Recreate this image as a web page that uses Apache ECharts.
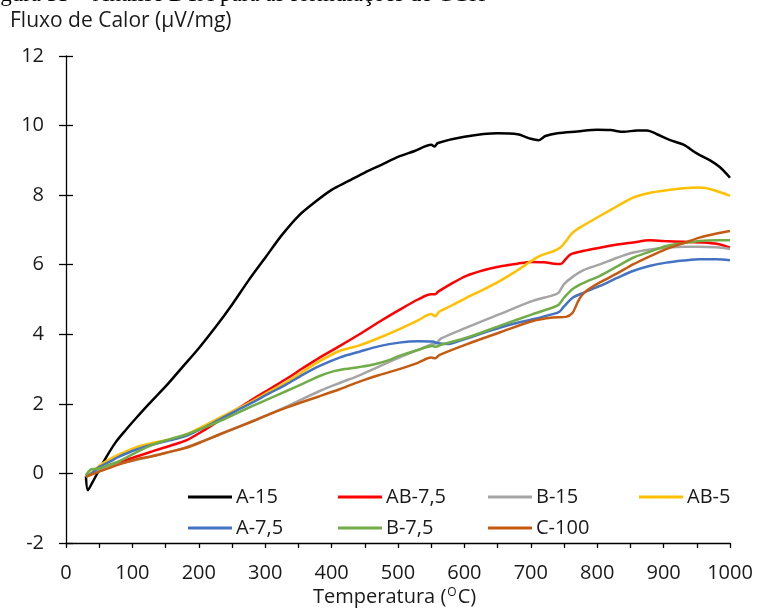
<!DOCTYPE html>
<html>
<head>
<meta charset="utf-8">
<script src="https://cdn.jsdelivr.net/npm/echarts@6/dist/echarts.min.js"></script>
<style>
  html, body { margin: 0; padding: 0; background: #fff; }
  #chart { width: 757px; height: 611px; }
</style>
</head>
<body>
<div id="chart"></div>
<script>
// DTA curves: [temperature °C, heat flow µV/mg]
const seriesNames = ['A-15', 'AB-7,5', 'B-15', 'AB-5', 'A-7,5', 'B-7,5', 'C-100'];
const seriesColors = ['#000000', '#FF0000', '#A5A5A5', '#FFC000', '#4472C4', '#70AD47', '#C55A11'];

const a15 = [[30,-0.08],[33,-0.48],[40,-0.25],[50,0.1],[60,0.45],[75,0.9],[90,1.25],[106,1.6],[125,2.0],[150,2.5],[175,3.05],[200,3.6],[225,4.2],[250,4.85],[275,5.55],[300,6.2],[325,6.85],[350,7.4],[375,7.8],[400,8.15],[425,8.4],[450,8.65],[475,8.87],[500,9.1],[525,9.27],[550,9.45],[555,9.4],[560,9.5],[600,9.68],[650,9.78],[680,9.75],[700,9.62],[712,9.58],[722,9.7],[740,9.78],[770,9.83],[800,9.88],[820,9.87],[840,9.82],[860,9.86],[875,9.86],[890,9.75],[910,9.58],[930,9.45],[950,9.2],[970,9.0],[985,8.8],[1000,8.5]];
const ab75 = [[30,-0.05],[40,0.0],[50,0.1],[65,0.2],[80,0.31],[105,0.48],[131,0.64],[156,0.79],[181,0.95],[206,1.22],[231,1.52],[256,1.82],[281,2.13],[306,2.42],[332,2.72],[357,3.03],[382,3.33],[412,3.66],[442,4.0],[472,4.36],[502,4.7],[530,5.0],[550,5.15],[556,5.15],[560,5.22],[580,5.45],[603,5.68],[630,5.85],[653,5.95],[680,6.03],[700,6.08],[720,6.07],[735,6.03],[745,6.02],[752,6.15],[760,6.3],[780,6.4],[804,6.49],[830,6.58],[854,6.64],[879,6.7],[900,6.68],[930,6.66],[960,6.64],[980,6.6],[1000,6.49]];
const b15 = [[30,-0.05],[50,0.1],[80,0.27],[131,0.5],[181,0.75],[231,1.12],[281,1.5],[332,1.92],[382,2.37],[412,2.6],[442,2.82],[472,3.08],[502,3.33],[530,3.55],[552,3.72],[558,3.75],[565,3.88],[603,4.19],[653,4.58],[703,4.96],[733,5.12],[742,5.2],[750,5.44],[763,5.65],[780,5.85],[804,6.01],[830,6.2],[854,6.35],[880,6.44],[904,6.49],[930,6.52],[954,6.52],[980,6.5],[1000,6.45]];
const ab5 = [[30,-0.1],[40,0.05],[50,0.22],[65,0.4],[80,0.55],[105,0.75],[131,0.88],[156,0.98],[181,1.12],[206,1.35],[231,1.6],[256,1.84],[281,2.08],[306,2.35],[332,2.62],[357,2.93],[382,3.23],[412,3.52],[442,3.68],[472,3.9],[502,4.15],[530,4.4],[550,4.58],[556,4.52],[562,4.65],[580,4.82],[603,5.05],[630,5.3],[653,5.53],[675,5.78],[693,6.01],[713,6.25],[733,6.38],[745,6.5],[753,6.68],[762,6.9],[775,7.08],[804,7.4],[830,7.68],[854,7.93],[880,8.07],[904,8.14],[930,8.2],[954,8.22],[975,8.15],[1000,7.98]];
const a75 = [[30,-0.1],[40,0.02],[50,0.18],[65,0.33],[80,0.48],[105,0.68],[131,0.83],[156,0.95],[181,1.08],[206,1.3],[231,1.55],[256,1.8],[281,2.04],[306,2.3],[332,2.56],[357,2.84],[382,3.09],[412,3.33],[442,3.5],[472,3.66],[502,3.76],[530,3.8],[552,3.79],[560,3.74],[575,3.72],[603,3.88],[630,4.05],[653,4.19],[680,4.33],[703,4.43],[733,4.58],[743,4.65],[750,4.8],[763,5.05],[780,5.2],[804,5.39],[830,5.62],[854,5.82],[880,5.97],[904,6.06],[930,6.12],[954,6.16],[980,6.16],[1000,6.13]];
const b75 = [[30,-0.05],[34,0.05],[38,0.12],[45,0.13],[52,0.15],[65,0.25],[80,0.35],[105,0.6],[131,0.83],[156,0.98],[181,1.12],[206,1.3],[231,1.5],[256,1.72],[281,1.94],[306,2.15],[332,2.37],[357,2.58],[382,2.8],[400,2.92],[420,3.0],[442,3.06],[465,3.14],[485,3.25],[502,3.38],[530,3.55],[552,3.66],[557,3.64],[565,3.7],[603,3.9],[653,4.24],[703,4.58],[733,4.77],[742,4.85],[750,5.05],[763,5.3],[780,5.48],[804,5.68],[830,5.95],[854,6.2],[880,6.38],[904,6.54],[930,6.62],[954,6.68],[980,6.7],[1000,6.7]];
const c100 = [[30,-0.1],[50,0.05],[80,0.26],[105,0.4],[131,0.5],[156,0.62],[181,0.74],[206,0.92],[231,1.12],[256,1.31],[281,1.5],[306,1.7],[332,1.89],[357,2.06],[382,2.22],[412,2.42],[442,2.64],[472,2.83],[502,3.0],[530,3.18],[550,3.33],[556,3.31],[562,3.4],[603,3.71],[653,4.05],[703,4.38],[733,4.48],[753,4.5],[763,4.62],[770,4.9],[776,5.1],[784,5.25],[804,5.49],[830,5.75],[854,6.01],[880,6.25],[904,6.45],[930,6.62],[954,6.78],[980,6.9],[1000,6.97]];

const seriesData = [a15, ab75, b15, ab5, a75, b75, c100];

const xTicks = { min: 0, max: 1000, step: 50, labelStep: 100 };
const yTicks = { min: -2, max: 12, step: 2 };

const FONT = '"Open Sans", Lato, sans-serif';
const FS = 20;
const TEXT = '#1a1a1a';

// legend slots: two rows, four columns
const legendSlots = [
  [188, 487], [338, 487], [488, 487], [639, 487],
  [188, 518], [338, 518], [488, 518]
];

const chart = echarts.init(document.getElementById('chart'), null, { renderer: 'canvas' });

chart.setOption({
  backgroundColor: '#ffffff',
  animation: false,
  grid: { left: 66, right: 27, top: 56, bottom: 68, containLabel: false },
  xAxis: {
    type: 'value',
    min: xTicks.min, max: xTicks.max, interval: xTicks.step,
    axisLine: { onZero: false, lineStyle: { color: '#000', width: 1.3 } },
    axisTick: { show: true, length: 5, lineStyle: { color: '#000', width: 1.3 } },
    axisLabel: {
      margin: 20, fontFamily: FONT, fontSize: FS, color: TEXT,
      formatter: v => (v % xTicks.labelStep === 0 ? String(v) : '')
    },
    splitLine: { show: false }
  },
  yAxis: [
    {
      type: 'value',
      min: yTicks.min, max: yTicks.max, interval: yTicks.step,
      axisLine: { show: true, onZero: false, lineStyle: { color: '#000', width: 1.3 } },
      axisTick: { show: true, length: 7, lineStyle: { color: '#000', width: 1.3 } },
      axisLabel: { margin: 22, fontFamily: FONT, fontSize: FS, color: TEXT },
      splitLine: { show: false }
    },
    {
      type: 'value',
      position: 'left',
      min: yTicks.min, max: yTicks.max, interval: yTicks.step,
      axisLine: { show: false },
      axisTick: { show: true, inside: true, length: 7, lineStyle: { color: '#000', width: 1.3 } },
      axisLabel: { show: false },
      splitLine: { show: false }
    }
  ],
  legend: seriesNames.map((name, i) => ({
    data: [name],
    left: legendSlots[i][0],
    top: legendSlots[i][1],
    padding: 0,
    icon: 'rect',
    itemWidth: 44,
    itemHeight: 3,
    itemGap: 0,
    textStyle: { fontFamily: FONT, fontSize: FS, color: TEXT, padding: [0, 0, 0, -1] }
  })),
  graphic: [
    {
      type: 'text', left: -19, top: -17,
      style: {
        text: 'Figura 33 – Análise DTA para as formulações de CGH',
        font: '23px "Liberation Serif", serif', fill: '#000'
      }
    },
    {
      type: 'text', left: 10, top: 11,
      style: { text: 'Fluxo de Calor (µV/mg)', font: '21px ' + FONT, fill: TEXT }
    },
    {
      type: 'text', left: 313, top: 587,
      style: {
        text: 'Temperatura ({s|O}C)',
        font: FS + 'px ' + FONT, fill: TEXT,
        rich: { s: { fontSize: 12, fontFamily: FONT, fill: TEXT, verticalAlign: 'top', padding: [0, 1, 9, 1] } }
      }
    }
  ],
  series: seriesNames.map((name, i) => ({
    name: name,
    type: 'line',
    data: seriesData[i],
    yAxisIndex: 0,
    showSymbol: false,
    symbol: 'none',
    smooth: 0.3,
    lineStyle: { color: seriesColors[i], width: 2.5 },
    itemStyle: { color: seriesColors[i] }
  }))
});
</script>
</body>
</html>
